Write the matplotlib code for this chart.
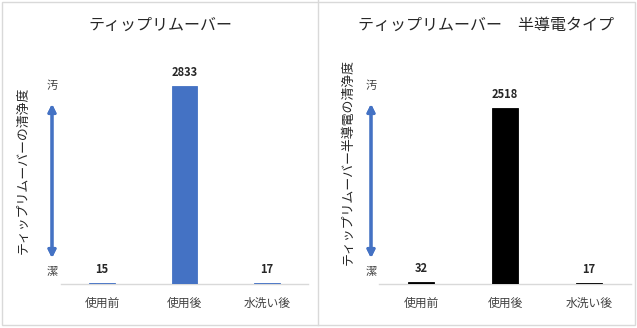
import matplotlib.pyplot as plt
from matplotlib.patches import Rectangle
from matplotlib.lines import Line2D

plt.rcParams['font.family'] = ['Noto Sans CJK JP', 'DejaVu Sans']

W, H = 637, 328
DPI = 100

CATEGORIES = ['使用前', '使用後', '水洗い後']
VALUES_STD = [15, 2833, 17]
VALUES_SEMI = [32, 2518, 17]

TITLE_STD = 'ティップリムーバー'
TITLE_SEMI = 'ティップリムーバー　半導電タイプ'
YLABEL_STD = 'ティップリムーバーの清浄度'
YLABEL_SEMI = 'ティップリムーバー半導電の清浄度'

BLUE = '#4472C4'
TEXT = '#404040'
GRID = '#D9D9D9'
YMAX = 3000


def px_box(x0, y0, x1, y1):
    # pixel box (top-left origin) -> figure fraction [left, bottom, width, height]
    return [x0 / W, (H - y1) / H, (x1 - x0) / W, (y1 - y0) / H]


def fx(x):
    return x / W


def fy(y):
    return (H - y) / H


def draw_panel(fig, box, values, color, title, title_x, ylabel, ylabel_x, ylabel_y, arrow_x):
    ax = fig.add_axes(px_box(*box))
    x = range(len(CATEGORIES))
    bars = ax.bar(x, values, width=0.31, color=color, edgecolor=color, linewidth=0.6)
    for b, v in zip(bars, values):
        ax.annotate(str(v), (b.get_x() + b.get_width() / 2, v), xytext=(0, 5),
                    textcoords='offset points', ha='center', va='bottom',
                    fontsize=8, fontweight='bold', color='#262626')
    ax.set_xlim(-0.5, 2.5)
    ax.set_ylim(0, YMAX)
    ax.set_xticks(list(x))
    ax.set_xticklabels(CATEGORIES, fontsize=8.5, color=TEXT)
    ax.tick_params(axis='x', length=0, pad=9)
    ax.set_yticks([])
    for s in ['top', 'right', 'left']:
        ax.spines[s].set_visible(False)
    ax.spines['bottom'].set_color(GRID)
    ax.spines['bottom'].set_linewidth(1)
    ax.spines['bottom'].set_zorder(0.5)

    fig.text(fx(title_x), fy(25), title, ha='center', va='center',
             fontsize=11.5, color='#262626')
    fig.text(fx(ylabel_x), fy(ylabel_y), ylabel, rotation=90, ha='center',
             va='center', fontsize=9.3, color='#262626')
    fig.text(fx(arrow_x), fy(86), '汚', ha='center', va='center', fontsize=8, color=TEXT)
    fig.text(fx(arrow_x), fy(272), '潔', ha='center', va='center', fontsize=8, color=TEXT)
    fig.add_artist(plt.annotate('', xy=(fx(arrow_x), fy(104)), xytext=(fx(arrow_x), fy(258)),
                                xycoords='figure fraction', textcoords='figure fraction',
                                arrowprops=dict(arrowstyle='<|-|>', color=BLUE, lw=2.2,
                                                mutation_scale=11, shrinkA=0, shrinkB=0)))
    return ax


fig = plt.figure(figsize=(W / DPI, H / DPI), dpi=DPI)

draw_panel(fig, (61, 74, 308, 284), VALUES_STD, BLUE, TITLE_STD, 160,
           YLABEL_STD, 23, 170, 52)
draw_panel(fig, (379, 74, 631, 284), VALUES_SEMI, 'black', TITLE_SEMI, 486,
           YLABEL_SEMI, 348, 162, 371)

# outer frame and divider between the two charts
fig.add_artist(Rectangle((fx(2), fy(325)), fx(633), (323) / H, transform=fig.transFigure,
                         fill=False, edgecolor=GRID, lw=1))
fig.add_artist(Line2D([fx(318), fx(318)], [fy(0), fy(325)], transform=fig.transFigure,
                      color=GRID, lw=1))

fig.savefig('out.png', dpi=DPI)
